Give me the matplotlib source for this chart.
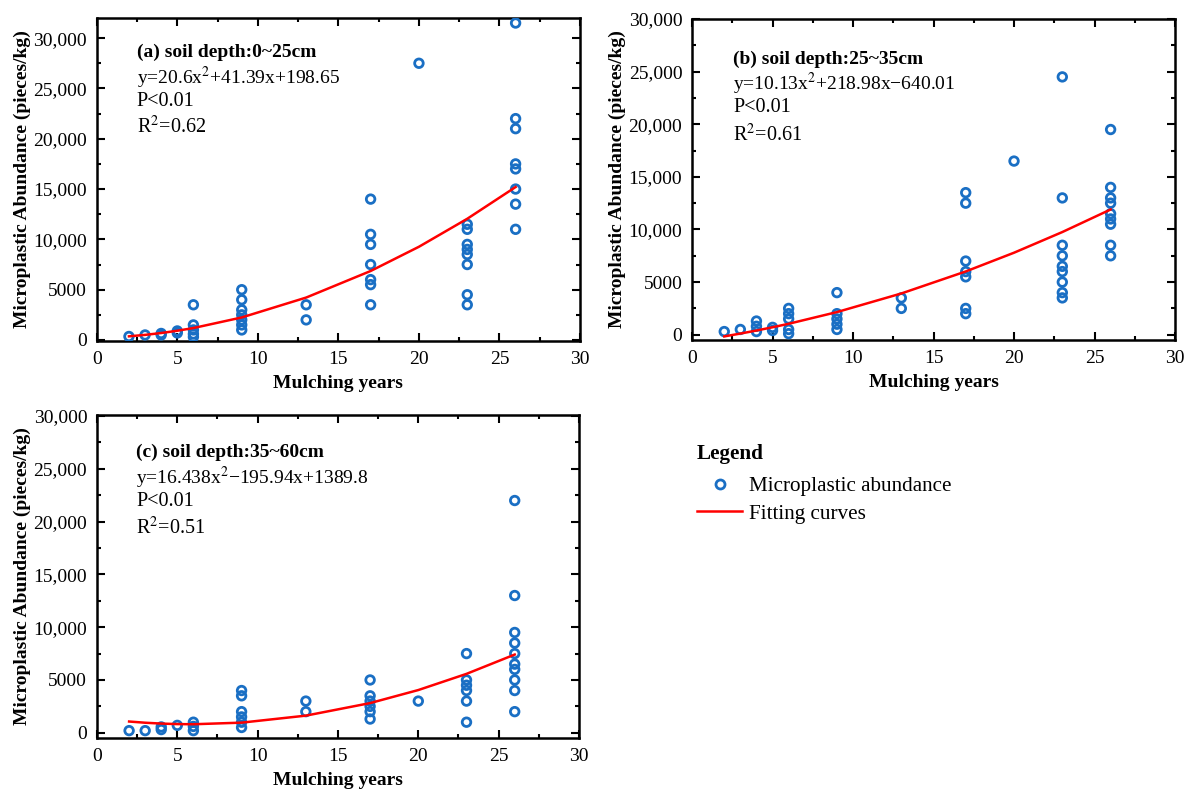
import numpy as np
import matplotlib
matplotlib.use("Agg")
import matplotlib.pyplot as plt
from matplotlib.ticker import MultipleLocator, FuncFormatter
from matplotlib.lines import Line2D

plt.rcParams["font.family"] = ["Liberation Serif", "DejaVu Serif"]
plt.rcParams["mathtext.fontset"] = "stix"

# scatter data: mulching years and microplastic abundance (pieces/kg)
x_a = [2, 3, 4, 4, 5, 5, 6, 6, 6, 6, 6,
       9, 9, 9, 9, 9, 9, 9, 13, 13,
       17, 17, 17, 17, 17, 17, 17, 20,
       23, 23, 23, 23, 23, 23, 23, 23,
       26, 26, 26, 26, 26, 26, 26, 26]
y_a = [350, 500, 500, 650, 700, 900, 3500, 1500, 1000, 600, 300,
       5000, 4000, 3000, 2500, 2000, 1500, 1000, 3500, 2000,
       14000, 10500, 9500, 7500, 6000, 5500, 3500, 27500,
       11500, 11000, 9500, 9000, 8500, 7500, 4500, 3500,
       31500, 22000, 21000, 17500, 17000, 15000, 13500, 11000]

x_b = [2, 3, 4, 4, 4, 5, 5, 6, 6, 6, 6, 6,
       9, 9, 9, 9, 9, 13, 13,
       17, 17, 17, 17, 17, 17, 17, 20,
       23, 23, 23, 23, 23, 23, 23, 23, 23,
       26, 26, 26, 26, 26, 26, 26, 26, 26]
y_b = [300, 500, 1300, 800, 300, 700, 400, 2500, 2000, 1500, 500, 100,
       4000, 2000, 1500, 1000, 500, 3500, 2500,
       13500, 12500, 7000, 6000, 5500, 2500, 2000, 16500,
       24500, 13000, 8500, 7500, 6500, 6000, 5000, 4000, 3500,
       19500, 14000, 13000, 12500, 11500, 11000, 10500, 8500, 7500]

x_c = [2, 3, 4, 4, 5, 6, 6, 6,
       9, 9, 9, 9, 9, 9, 13, 13,
       17, 17, 17, 17, 17, 17, 20,
       23, 23, 23, 23, 23, 23,
       26, 26, 26, 26, 26, 26, 26, 26, 26, 26]
y_c = [200, 200, 550, 300, 700, 1000, 600, 200,
       4000, 3500, 2000, 1500, 1000, 500, 3000, 2000,
       5000, 3500, 3000, 2500, 2000, 1300, 3000,
       7500, 5000, 4500, 4000, 3000, 1000,
       22000, 13000, 9500, 8500, 7500, 6500, 6000, 5000, 4000, 2000]

# fitting curves
fit_x = [2, 3, 4, 5, 6, 9, 13, 17, 20, 23, 26]
fit_a = [365, 508, 693, 920, 1188, 2240, 4218, 6856, 9266, 12048, 15200]
fit_b = [-161, 108, 398, 708, 1039, 2151, 3919, 6011, 7792, 9756, 11901]
fit_c = [1064, 950, 869, 821, 806, 958, 1621, 2810, 4046, 5579, 7408]

titles = ["(a) soil depth:0~25cm", "(b) soil depth:25~35cm", "(c) soil depth:35~60cm"]
equations = ["y=20.6x$^{2}$+41.39x+198.65",
             "y=10.13x$^{2}$+218.98x\u2212640.01",
             "y=16.438x$^{2}$\u2212195.94x+1389.8"]
r2_labels = ["0.62", "0.61", "0.51"]

blue = "#1a6fc4"
red = "#ff0000"


def fmt(v, pos):
    if v >= 10000:
        return f"{int(v):,}"
    return f"{int(v)}"


fig = plt.figure(figsize=(11.84, 7.89), dpi=100)
ax_a = fig.add_axes([0.0817, 0.5678, 0.4082, 0.4094])
ax_b = fig.add_axes([0.5845, 0.5691, 0.4079, 0.4068])
ax_c = fig.add_axes([0.0819, 0.0646, 0.4071, 0.4094])

panels = [
    (ax_a, x_a, y_a, fit_a, (-100, 32000), (0.083, 0.895, 0.814, 0.743, 0.663)),
    (ax_b, x_b, y_b, fit_b, (-500, 30000), (0.085, 0.875, 0.798, 0.723, 0.639)),
    (ax_c, x_c, y_c, fit_c, (-500, 30100), (0.081, 0.885, 0.805, 0.731, 0.650)),
]

for i, (ax, xs, ys, fit, ylim, pos) in enumerate(panels):
    ax.scatter(xs, ys, s=38, facecolors="none", edgecolors=blue, linewidths=2, zorder=3)
    ax.plot(fit_x, fit, color=red, lw=1.8, zorder=4)
    ax.set_xlim(0, 30)
    ax.set_ylim(*ylim)
    ax.xaxis.set_major_locator(MultipleLocator(5))
    ax.xaxis.set_minor_locator(MultipleLocator(2.5))
    ax.yaxis.set_major_locator(MultipleLocator(5000))
    ax.yaxis.set_minor_locator(MultipleLocator(2500))
    ax.yaxis.set_major_formatter(FuncFormatter(fmt))
    ax.tick_params(which="both", direction="in", top=True, right=True, width=1.5)
    ax.tick_params(which="major", length=6, labelsize=14, pad=7)
    ax.tick_params(which="minor", length=3)
    for sp in ax.spines.values():
        sp.set_linewidth(1.8)
    ax.set_xlabel("Mulching years", fontsize=14, fontweight="bold", labelpad=5.5)
    ax.set_ylabel("Microplastic Abundance (pieces/kg)", fontsize=14, fontweight="bold", labelpad=1.5)

    tx, y0, y1, y2, y3 = pos
    ax.text(tx, y0, titles[i], transform=ax.transAxes, fontsize=14, fontweight="bold", va="center")
    ax.text(tx, y1, equations[i], transform=ax.transAxes, fontsize=14, va="center")
    ax.text(tx, y2, "P<0.01", transform=ax.transAxes, fontsize=14.5, va="center")
    ax.text(tx, y3, "R$^{2}$=" + r2_labels[i], transform=ax.transAxes, fontsize=14.5, va="center")

handles = [
    Line2D([], [], marker="o", ls="none", markerfacecolor="none", markeredgecolor=blue,
           markeredgewidth=2, markersize=6.5),
    Line2D([], [], color=red, lw=1.8),
]
leg = fig.legend(handles, ["Microplastic abundance", "Fitting curves"],
                 loc="upper left", bbox_to_anchor=(0.5887, 0.437), frameon=False,
                 title="Legend", alignment="left", fontsize=15.2, handlelength=2.15,
                 handletextpad=0.3, labelspacing=0.35, borderpad=0, borderaxespad=0)
leg.get_title().set_fontweight("bold")
leg.get_title().set_fontsize(15.2)
leg._legend_box.sep = 9

fig.savefig("out.png", dpi=100)
